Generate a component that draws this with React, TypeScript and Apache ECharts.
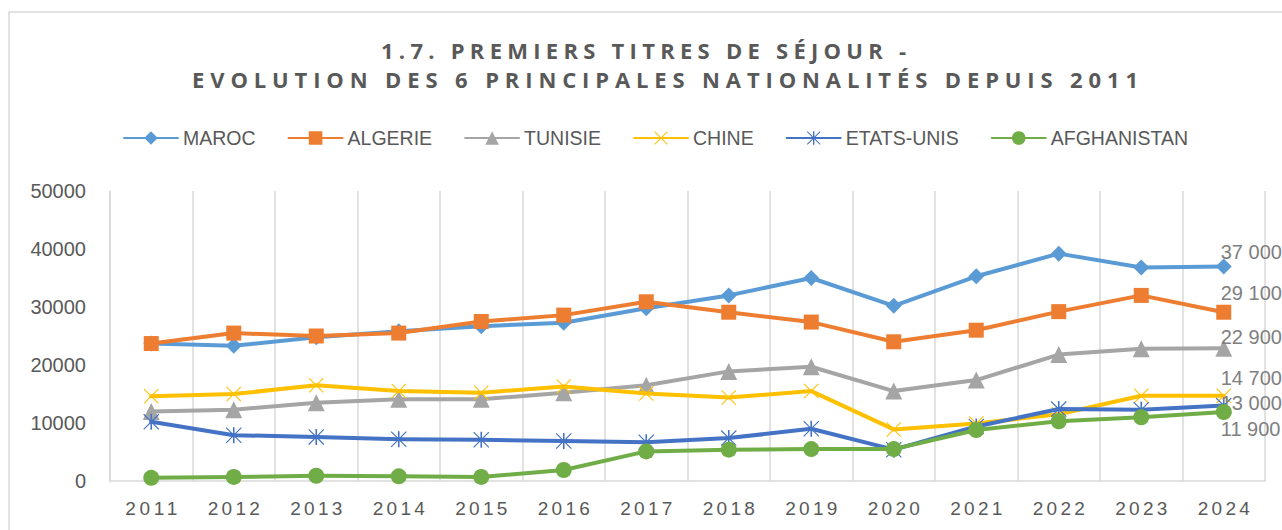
import React, { useEffect, useRef } from 'react';
import * as echarts from 'echarts';

// ---------- data ----------
const years = ['2011', '2012', '2013', '2014', '2015', '2016', '2017', '2018', '2019', '2020', '2021', '2022', '2023', '2024'];
const seriesNames = ['MAROC', 'ALGERIE', 'TUNISIE', 'CHINE', 'ETATS-UNIS', 'AFGHANISTAN'];
const maroc = [23700, 23300, 24800, 25800, 26700, 27300, 29800, 32000, 35000, 30200, 35300, 39200, 36800, 37000];
const algerie = [23700, 25500, 25000, 25500, 27500, 28600, 30900, 29100, 27400, 24000, 26000, 29200, 32000, 29100];
const tunisie = [12000, 12300, 13500, 14100, 14100, 15200, 16500, 18900, 19700, 15500, 17400, 21800, 22800, 22900];
const chine = [14600, 15000, 16500, 15500, 15200, 16300, 15100, 14400, 15500, 8900, 9900, 11500, 14700, 14700];
const etatsUnis = [10200, 7900, 7600, 7200, 7100, 6900, 6700, 7400, 9000, 5400, 9400, 12400, 12300, 13000];
const afghanistan = [550, 700, 900, 800, 700, 1900, 5100, 5400, 5500, 5500, 8800, 10300, 11000, 11900];
const seriesValues = [maroc, algerie, tunisie, chine, etatsUnis, afghanistan];

const titleLine1 = '1.7. PREMIERS TITRES DE SÉJOUR -';
const titleLine2 = 'EVOLUTION DES 6 PRINCIPALES NATIONALITÉS DEPUIS 2011';
const yMin = 0;
const yMax = 50000;
const yInterval = 10000;

// ---------- styles ----------
const colors = ['#5b9bd5', '#ed7d31', '#a5a5a5', '#ffc000', '#4472c4', '#70ad47'];
const xPath = 'path://M1,0 L20,19 L19,20 L0,1 Z M19,0 L20,1 L1,20 L0,19 Z';
const starPath = 'path://M1,0 L20,19 L19,20 L0,1 Z M19,0 L20,1 L1,20 L0,19 Z M9,0 L11,0 L11,20 L9,20 Z';
const symbols = ['diamond', 'rect', 'triangle', xPath, starPath, 'circle'];
const symbolSizes = [16, 15, 17, 15, 16, 16];
const labelDy = [-14, -19, -11, -18, -3, 17];

const gray = '#595959';
const gridGray = '#d9d9d9';
const textFont = "'Liberation Sans', Arial, sans-serif";
const titleFont = "'Open Sans', 'DejaVu Sans', sans-serif";

function fmt(v: number): string {
  return String(v).replace(/\B(?=(\d{3})+(?!\d))/g, ' ');
}

function applySpacing(root: HTMLElement) {
  const texts = root.querySelectorAll('text');
  texts.forEach((node) => {
    const t = node as SVGTextElement;
    const s = t.textContent || '';
    let target = 0;
    let centered = false;
    if (s === titleLine1) target = 525;
    else if (s === titleLine2) target = 946;
    else if (years.includes(s)) { target = 52; centered = true; }
    else return;
    t.removeAttribute('letter-spacing');
    t.removeAttribute('dx');
    const w = t.getComputedTextLength();
    const sp = (target - w) / (s.length - 1);
    t.setAttribute('letter-spacing', sp.toFixed(2));
    if (centered) t.setAttribute('dx', (sp / 2).toFixed(2));
  });
}

export default function App() {
  const ref = useRef<HTMLDivElement>(null);

  useEffect(() => {
    if (!ref.current) return;
    const chart = echarts.init(ref.current, undefined, { renderer: 'svg' });
    const last = years.length - 1;

    const series = seriesNames.map((name, i) => ({
      name,
      type: 'line',
      data: seriesValues[i].map((v, j) =>
        j === last
          ? {
              value: v,
              label: {
                show: true,
                position: 'inside',
                align: 'left',
                verticalAlign: 'middle',
                offset: [-3, labelDy[i]],
                formatter: (p: any) => fmt(p.value),
                color: '#7f7f7f',
                fontSize: 20,
                lineHeight: 20,
                fontFamily: textFont,
              },
            }
          : v
      ),
      symbol: symbols[i],
      symbolSize: symbolSizes[i],
      showAllSymbol: true,
      color: colors[i],
      lineStyle: { color: colors[i], width: 4, cap: 'round', join: 'round' },
      itemStyle: { color: colors[i], borderWidth: 0 },
      emphasis: { disabled: true },
      z: 2 + i,
    }));

    chart.setOption({
      animation: false,
      backgroundColor: '#ffffff',
      title: [
        {
          text: titleLine1,
          left: 381,
          top: 38.5,
          padding: 0,
          textStyle: { color: gray, fontSize: 22, fontWeight: 700, fontFamily: titleFont, lineHeight: 22 },
        },
        {
          text: titleLine2,
          left: 192,
          top: 67.5,
          padding: 0,
          textStyle: { color: gray, fontSize: 22, fontWeight: 700, fontFamily: titleFont, lineHeight: 22 },
        },
      ],
      graphic: [
        {
          type: 'rect',
          shape: { x: 9, y: 12, width: 1400, height: 700 },
          style: { fill: 'none', stroke: gridGray, lineWidth: 1.5 },
          silent: true,
          z: -1,
        },
      ],
      legend: {
        left: 123,
        top: 128,
        itemWidth: 54,
        itemHeight: 17,
        itemGap: 32,
        padding: 0,
        textStyle: { color: gray, fontSize: 19.5, fontFamily: textFont },
        data: seriesNames,
      },
      grid: { left: 110, right: 17, top: 191, bottom: 49, containLabel: false },
      xAxis: {
        type: 'category',
        data: years,
        boundaryGap: true,
        axisLine: { show: true, lineStyle: { color: gridGray, width: 1.5 } },
        axisTick: { show: false },
        splitLine: { show: true, interval: 0, lineStyle: { color: gridGray, width: 1.5 } },
        axisLabel: { interval: 0, color: gray, fontSize: 19, fontFamily: textFont, margin: 18 },
      },
      yAxis: {
        type: 'value',
        min: yMin,
        max: yMax,
        interval: yInterval,
        axisLine: { show: true, lineStyle: { color: gridGray, width: 1.5 } },
        axisTick: { show: false },
        splitLine: { show: false },
        axisLabel: {
          color: gray,
          fontSize: 20,
          fontFamily: textFont,
          margin: 24,
          formatter: (v: number) => String(v),
        },
      },
      series,
    });

    const el = ref.current;
    applySpacing(el);
    chart.on('finished', () => applySpacing(el));
    const timer = setTimeout(() => applySpacing(el), 50);

    return () => {
      clearTimeout(timer);
      chart.dispose();
    };
  }, []);

  return (
    <div
      ref={ref}
      style={{ position: 'fixed', left: 0, top: 0, width: 1282, height: 530, background: '#fff' }}
    />
  );
}
